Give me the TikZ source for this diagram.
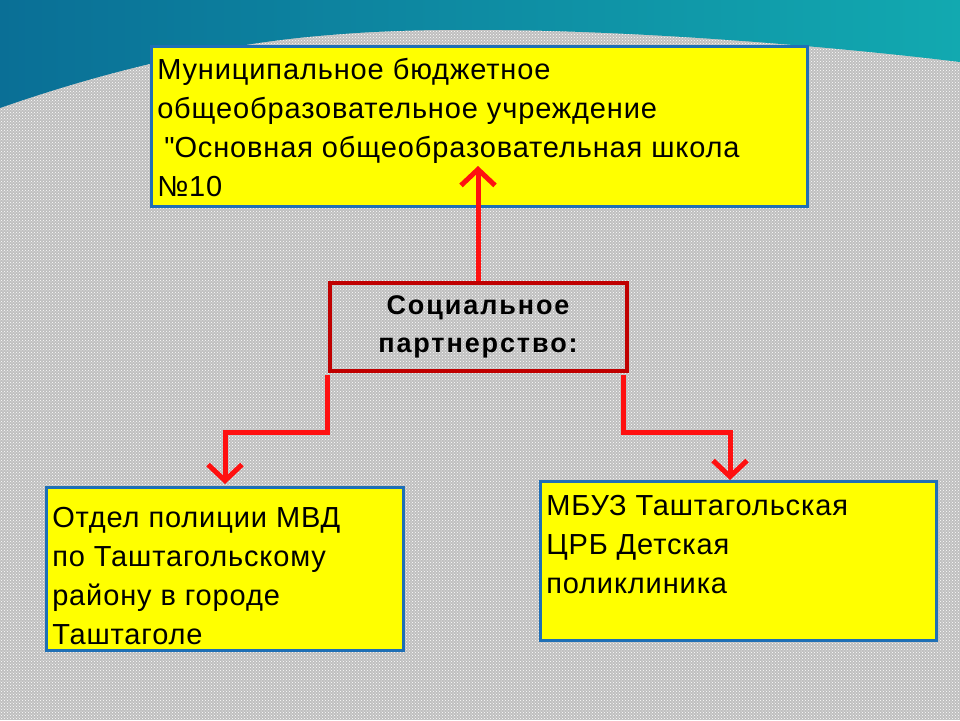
\documentclass[tikz,border=0pt]{standalone}
\usepackage{fontspec}
\setmainfont{Liberation Sans}
\newfontfamily\plainfont{Liberation Sans}
\usetikzlibrary{positioning}
\usetikzlibrary{arrows.meta}
\usetikzlibrary{patterns}
\definecolor{boxYellow}{HTML}{ffff00}
\definecolor{boxBlue}{HTML}{1f6fb5}
\definecolor{linkRed}{HTML}{ff1010}
\definecolor{frameRed}{HTML}{c00000}
\definecolor{seaDark}{HTML}{0a6f96}
\definecolor{seaLight}{HTML}{12a9b0}
\newcommand{\boxtext}[4]{\parbox[c][#1][t]{#2}{\vspace*{#3}#4}}
\tikzset{
    partner/.style={rectangle, draw=boxBlue, line width=2.5pt, fill=boxYellow, align=left, anchor=north west, inner xsep=6pt, inner ysep=2pt, font=\fontsize{29}{39}\selectfont\addfontfeatures{LetterSpace=3}},
    link/.style={draw=linkRed, line width=5pt, -{Straight Barb[length=16pt, width=34pt, line width=5pt]}},
}
\begin{document}
\begin{tikzpicture}[x=1pt, y=-1pt]
    \useasboundingbox (0,0) rectangle (960,720);
    % background
    \fill [gray!50] (0,0) rectangle (960,720);
    \fill [pattern=crosshatch dots, pattern color=white] (0,0) rectangle (960,720);
    \shade [left color=seaDark, right color=seaLight] (0,0) -- (960,0) -- (960,62) .. controls (780,40) and (500,20) .. (330,35) .. controls (200,45) and (80,80) .. (0,108) -- cycle;

    % boxes
    \node (school) [partner] at (150,45) {\boxtext{156pt}{644pt}{10pt}{Муниципальное бюджетное\\общеобразовательное учреждение\\\hspace*{7pt}{\plainfont\addfontfeatures{LetterSpace=3}"}Основная общеобразовательная школа\\№10}};
    \node (centre) [rectangle, draw=frameRed, line width=4pt, minimum width=297pt, minimum height=88pt, align=center, font=\fontsize{27}{38}\selectfont\bfseries\addfontfeatures{LetterSpace=7}] at (478,327) {Социальное\\партнерство:};
    \node (police) [partner] at (45,486) {\boxtext{159pt}{345pt}{18pt}{Отдел полиции МВД\\по Таштагольскому\\району в городе\\Таштаголе}};
    \node (clinic) [partner] at (539,480) {\boxtext{155pt}{384pt}{12pt}{МБУЗ Таштагольская\\ЦРБ Детская\\поликлиника}};

    % links
    \draw [link] (centre.north) -- (478,166);
    \draw [link] (centre.south west) ++(0,2) -- ++(0,57) -| (225,484);
    \draw [link] (centre.south east) ++(-5,2) -- ++(0,57) -| (730,480);
\end{tikzpicture}
\end{document}
